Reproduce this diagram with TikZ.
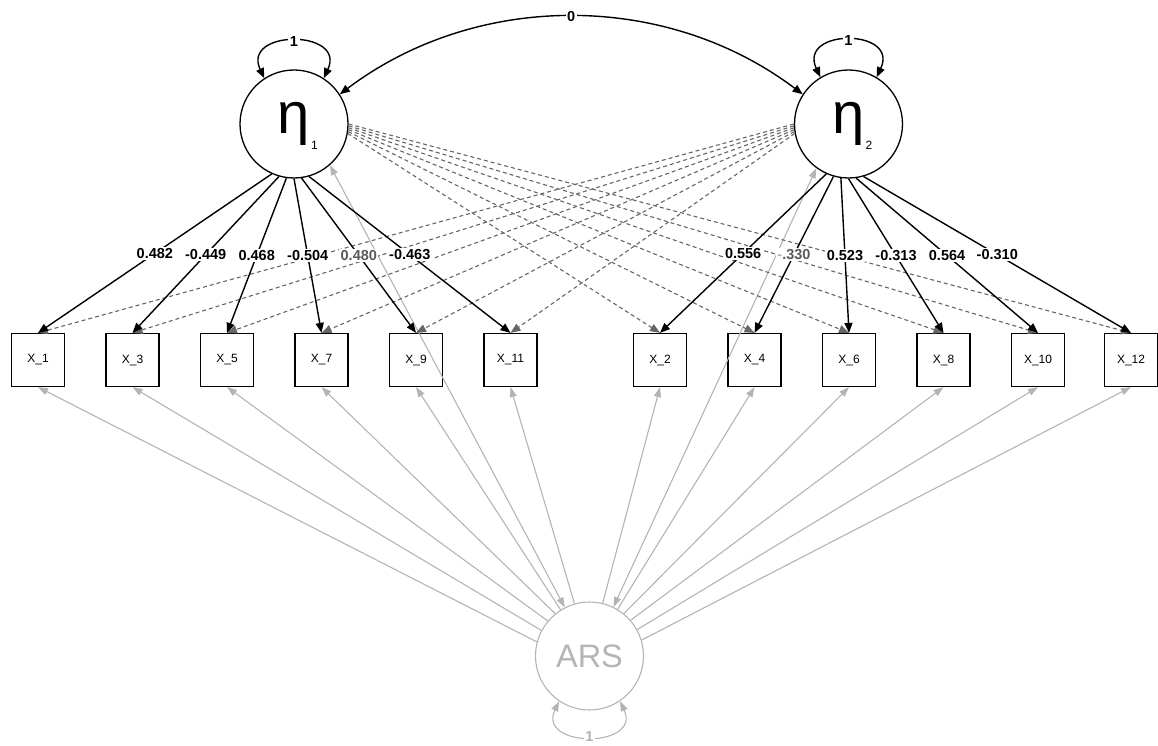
\documentclass[tikz,border=0pt]{standalone}
\usepackage{fontspec}
\setmainfont{Liberation Sans}
\usetikzlibrary{arrows.meta}
\definecolor{arsgray}{RGB}{180,180,180}
\definecolor{dashgray}{RGB}{102,102,102}
\definecolor{lblgray}{RGB}{90,90,90}
\begin{document}
\begin{tikzpicture}[x=1pt,y=-1pt,
  latent/.style={circle, draw, line width=1.3pt, minimum size=108pt, inner sep=0pt},
  manifest/.style={rectangle, draw, line width=1.2pt, minimum width=53pt, minimum height=53pt, inner sep=0pt, font=\fontsize{12}{12}\selectfont},
  tip/.tip={Triangle[length=10pt,width=8pt]},
  load/.style={line width=1.4pt, -tip},
  cross/.style={line width=1.1pt, draw=dashgray, dash pattern=on 4pt off 3pt, -{Triangle[length=10pt,width=8pt,fill=dashgray]}},
  arsedge/.style={line width=1.1pt, draw=arsgray, -{Triangle[length=10pt,width=7pt,fill=arsgray]}},
  bidir/.style={line width=1.4pt, tip-tip},
  arsbi/.style={line width=1.1pt, draw=arsgray, {Triangle[length=10pt,width=7pt,fill=arsgray]}-{Triangle[length=10pt,width=7pt,fill=arsgray]}},
  lbl/.style={fill=white, inner sep=1.5pt, font=\bfseries\fontsize{14.5}{14.5}\selectfont},
]
\useasboundingbox (0,0) rectangle (1158,746);

% latent variables
\node[latent] (eta1) at (294,124) {\fontsize{58}{58}\selectfont η\rlap{\kern1pt\smash{\raisebox{-16pt}{\fontsize{12}{12}\selectfont 1}}}};
\node[latent] (eta2) at (848.5,124) {\fontsize{58}{58}\selectfont η\rlap{\kern1pt\smash{\raisebox{-16pt}{\fontsize{12}{12}\selectfont 2}}}};
\node[latent, draw=arsgray, line width=1.1pt, text=arsgray, font=\fontsize{32.5}{32.5}\selectfont] (ars) at (589.5,656) {ARS};

% manifest variables
\node[manifest] (x1)  at (38,360)    {X\_1};
\node[manifest] (x3)  at (132.5,360) {X\_3};
\node[manifest] (x5)  at (227,360)   {X\_5};
\node[manifest] (x7)  at (321.5,360) {X\_7};
\node[manifest] (x9)  at (416,360)   {X\_9};
\node[manifest] (x11) at (510.5,360) {X\_11};
\node[manifest] (x2)  at (660,360)   {X\_2};
\node[manifest] (x4)  at (754.5,360) {X\_4};
\node[manifest] (x6)  at (849,360)   {X\_6};
\node[manifest] (x8)  at (943.5,360) {X\_8};
\node[manifest] (x10) at (1038,360)  {X\_10};
\node[manifest] (x12) at (1131,360)  {X\_12};

% ARS method factor edges
\draw[arsedge] (ars.165) -- (x1.south);
\draw[arsedge] (ars.152) -- (x3.south);
\draw[arsedge] (ars.140) -- (x5.south);
\draw[arsedge] (ars.129) -- (x7.south);
\draw[arsedge] (ars.122) -- (x9.south);
\draw[arsedge] (ars.106) -- (x11.south);
\draw[arsedge] (ars.76) -- (x2.south);
\draw[arsedge] (ars.59) -- (x4.south);
\draw[arsedge] (ars.51) -- (x6.south);
\draw[arsedge] (ars.41) -- (x8.south);
\draw[arsedge] (ars.29) -- (x10.south);
\draw[arsedge] (ars.17) -- (x12.south);
\draw[arsbi] (eta1.311) -- (ars.117);
\draw[arsbi] (eta2.234) -- (ars.64);
\draw[arsbi] (ars.236) .. controls +(245:52pt) and +(295:52pt) .. node[lbl, text=arsgray, inner sep=1pt]{1} (ars.304);

% cross loadings (dashed)
\draw[cross] (eta1.0)   -- (x12.north);
\draw[cross] (eta1.358) -- (x10.north);
\draw[cross] (eta1.356) -- (x8.north);
\draw[cross] (eta1.354) -- (x6.north);
\draw[cross] (eta1.352) -- (x4.north);
\draw[cross] (eta1.350) -- (x2.north);
\draw[cross] (eta2.180) -- (x1.north);
\draw[cross] (eta2.182) -- (x3.north);
\draw[cross] (eta2.184) -- (x5.north);
\draw[cross] (eta2.186) -- (x7.north);
\draw[cross] (eta2.188) -- (x9.north);
\draw[cross] (eta2.190) -- (x11.north);

% main loadings
\draw[load] (eta1.246) -- node[lbl]{0.482} (x1.north);
\draw[load] (eta1.254) -- node[lbl]{-0.449} (x3.north);
\draw[load] (eta1.262) -- node[lbl]{0.468} (x5.north);
\draw[load] (eta1.270) -- node[lbl]{-0.504} (x7.north);
\draw[load] (eta1.278) -- node[lbl, text=lblgray]{0.480} (x9.north);
\draw[load] (eta1.286) -- node[lbl]{-0.463} (x11.north);
\draw[load] (eta2.246) -- node[lbl]{0.556} (x2.north);
\draw[load] (eta2.254) -- node[lbl]{\textcolor{arsgray}{-}\textcolor{lblgray}{.330}} (x4.north);
\draw[load] (eta2.262) -- node[lbl]{0.523} (x6.north);
\draw[load] (eta2.270) -- node[lbl]{-0.313} (x8.north);
\draw[load] (eta2.278) -- node[lbl]{0.564} (x10.north);
\draw[load] (eta2.286) -- node[lbl]{-0.310} (x12.north);

% variances and covariance
\draw[bidir] (eta1.123) .. controls +(115:54pt) and +(65:54pt) .. node[lbl]{1} (eta1.57);
\draw[bidir] (eta2.121) .. controls +(115:54pt) and +(65:54pt) .. node[lbl]{1} (eta2.59);
\draw[bidir] (eta1.33) to[bend left=37, looseness=0.95] node[lbl]{0} (eta2.147);
\end{tikzpicture}
\end{document}
